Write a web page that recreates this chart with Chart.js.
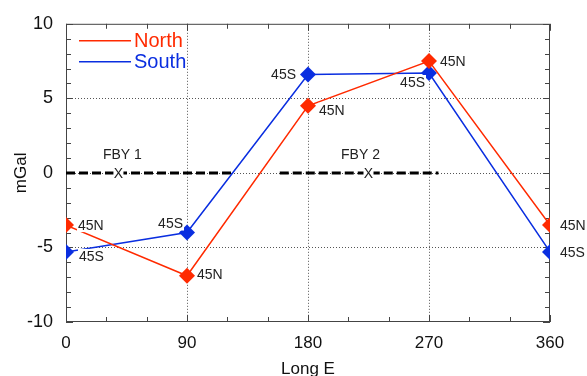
<!DOCTYPE html>
<html>
<head>
<meta charset="utf-8">
<script src="https://cdn.jsdelivr.net/npm/chart.js@4"></script>
<style>
    body { margin: 0; background: #fff; }
    canvas { display: block; }
</style>
</head>
<body>
<canvas id="gravity-chart" width="587" height="376"></canvas>
<script>
// values
var longitudes = [0, 90, 180, 270, 360];
var northValues = [-3.5, -6.9, 4.5, 7.5, -3.5];
var southValues = [-5.3, -4.0, 6.6, 6.7, -5.3];
var northTags = ["45N", "45N", "45N", "45N", "45N"];
var southTags = ["45S", "45S", "45S", "45S", "45S"];
var xTickValues = [0, 90, 180, 270, 360];
var yTickValues = [-10, -5, 0, 5, 10];
var fbyNames = ["FBY 1", "FBY 2"];
var fbyStart = [0, 159];
var fbyEnd = [124, 277];
var fbyCross = [39, 225];

// where each tag sits next to its marker: [dx, dy, align]
var northTagPlace = [[12, 0, "left"], [10, -2, "left"], [11, 4, "left"], [11, 0, "left"], [10, 0, "left"]];
var southTagPlace = [[13, 4, "left"], [-4, -9, "right"], [-12, 0, "right"], [-4, 9, "right"], [10, 0, "left"]];

var redColor = "#ff2a00";
var blueColor = "#0a2ee0";
var fontFamily = "'Liberation Sans', Arial, Helvetica, sans-serif";

function toPoints(xs, ys) {
    return xs.map(function (x, i) { return { x: x, y: ys[i] }; });
}

var fbyDatasets = fbyNames.map(function (name, i) {
    return {
        label: name,
        data: [{ x: fbyStart[i], y: 0 }, { x: fbyEnd[i], y: 0 }],
        borderColor: "#000",
        borderWidth: 3,
        borderDash: [9, 4],
        pointRadius: 0
    };
});

var decorPlugin = {
    id: "decor",
    beforeDatasetsDraw: function (chart) {
        var ctx = chart.ctx;
        var area = chart.chartArea;
        var xs = chart.scales.x;
        var ys = chart.scales.y;
        ctx.save();

        // dotted grid at the labelled ticks
        ctx.strokeStyle = "#555";
        ctx.lineWidth = 1;
        ctx.setLineDash([1, 2]);
        ctx.beginPath();
        xTickValues.slice(1, -1).forEach(function (v) {
            var gx = Math.round(xs.getPixelForValue(v)) + 0.5;
            ctx.moveTo(gx, area.top); ctx.lineTo(gx, area.bottom);
        });
        yTickValues.slice(1, -1).forEach(function (v) {
            var gy = Math.round(ys.getPixelForValue(v)) + 0.5;
            ctx.moveTo(area.left, gy); ctx.lineTo(area.right, gy);
        });
        ctx.stroke();
        ctx.setLineDash([]);

        ctx.strokeStyle = "#444";
        // frame
        ctx.strokeRect(area.left + 0.5, area.top + 0.5, area.right - area.left - 1, area.bottom - area.top - 1);
        // inward ticks on all four sides
        ctx.beginPath();
        for (var xv = 0; xv <= 360; xv += 30) {
            var px = Math.round(xs.getPixelForValue(xv)) + 0.5;
            var len = (xv % 90 === 0) ? 7 : 5;
            ctx.moveTo(px, area.bottom); ctx.lineTo(px, area.bottom - len);
            ctx.moveTo(px, area.top); ctx.lineTo(px, area.top + len);
        }
        for (var yv = -10; yv <= 10; yv += 1) {
            var py = Math.round(ys.getPixelForValue(yv)) + 0.5;
            var ylen = (yv % 5 === 0) ? 7 : 5;
            ctx.moveTo(area.left, py); ctx.lineTo(area.left + ylen, py);
            ctx.moveTo(area.right, py); ctx.lineTo(area.right - ylen, py);
        }
        ctx.stroke();

        // FBY names
        ctx.fillStyle = "#222";
        ctx.textAlign = "center";
        ctx.textBaseline = "middle";
        ctx.font = "14px " + fontFamily;
        fbyNames.forEach(function (name, i) {
            var cx = xs.getPixelForValue(fbyCross[i]);
            var cy = ys.getPixelForValue(0);
            ctx.fillText(name, cx + (i === 0 ? 4 : -8), cy - 18);
        });
        ctx.restore();
    },
    afterDatasetsDraw: function (chart) {
        var ctx = chart.ctx;
        var xs = chart.scales.x;
        var ys = chart.scales.y;
        var area = chart.chartArea;
        ctx.save();

        // crossing "X" over the dashed lines
        ctx.font = "14px " + fontFamily;
        ctx.textAlign = "center";
        ctx.textBaseline = "middle";
        fbyCross.forEach(function (v) {
            var cx = xs.getPixelForValue(v);
            var cy = ys.getPixelForValue(0);
            ctx.fillStyle = "#fff";
            ctx.fillRect(cx - 5, cy - 5, 10, 10);
            ctx.fillStyle = "#222";
            ctx.fillText("X", cx, cy + 1);
        });

        // point tags
        ctx.textBaseline = "middle";
        [[0, northTags, northTagPlace], [1, southTags, southTagPlace]].forEach(function (set) {
            var meta = chart.getDatasetMeta(set[0]);
            meta.data.forEach(function (pt, j) {
                var place = set[2][j];
                var tx = pt.x + place[0];
                var ty = pt.y + place[1];
                ctx.textAlign = place[2];
                var w = ctx.measureText(set[1][j]).width;
                var bx = place[2] === "left" ? tx - 1 : tx - w - 1;
                if (!(bx + w + 2 > area.right && bx < area.right)) {
                    ctx.fillStyle = "#fff";
                    ctx.fillRect(bx, ty - 7, w + 2, 14);
                }
                ctx.fillStyle = "#222";
                ctx.fillText(set[1][j], tx, ty + 1);
            });
        });

        // legend inside the plot
        var lx = area.left + 13;
        var names = [["North", redColor], ["South", blueColor]];
        ctx.font = "20px " + fontFamily;
        ctx.textAlign = "left";
        names.forEach(function (n, i) {
            var ly = area.top + 17 + i * 21;
            ctx.strokeStyle = n[1];
            ctx.lineWidth = 1.5;
            ctx.beginPath();
            ctx.moveTo(lx, ly);
            ctx.lineTo(lx + 52, ly);
            ctx.stroke();
            ctx.fillStyle = n[1];
            ctx.fillText(n[0], lx + 55, ly + 1);
        });
        ctx.restore();
    }
};

new Chart(
    document.getElementById("gravity-chart"),
    {
        type: "line",
        data: {
            datasets: [
                {
                    label: "North",
                    data: toPoints(longitudes, northValues),
                    borderColor: redColor,
                    backgroundColor: redColor,
                    borderWidth: 1.5,
                    pointStyle: "rectRot",
                    pointRadius: 8,
                    pointBorderWidth: 0
                },
                {
                    label: "South",
                    data: toPoints(longitudes, southValues),
                    borderColor: blueColor,
                    backgroundColor: blueColor,
                    borderWidth: 1.5,
                    pointStyle: "rectRot",
                    pointRadius: 8,
                    pointBorderWidth: 0
                }
            ].concat(fbyDatasets)
        },
        options: {
            responsive: false,
            animation: false,
            layout: {
                padding: { top: 20, right: 37, left: 0, bottom: 0 }
            },
            scales: {
                x: {
                    type: "linear",
                    min: 0,
                    max: 360,
                    afterFit: function (scale) { scale.height = 54; },
                    afterBuildTicks: function (scale) {
                        scale.ticks = xTickValues.map(function (v) { return { value: v }; });
                    },
                    ticks: {
                        color: "#111",
                        padding: 11,
                        maxRotation: 0,
                        font: { family: fontFamily, size: 17 }
                    },
                    grid: { display: false, drawTicks: false },
                    border: { display: false },
                    title: {
                        display: true,
                        text: "Long E",
                        color: "#111",
                        padding: { top: 0, bottom: -4 },
                        font: { family: fontFamily, size: 17 }
                    }
                },
                y: {
                    min: -10,
                    max: 10,
                    afterFit: function (scale) { scale.width = 66; },
                    afterBuildTicks: function (scale) {
                        scale.ticks = yTickValues.map(function (v) { return { value: v }; });
                    },
                    ticks: {
                        color: "#111",
                        padding: 13,
                        font: { family: fontFamily, size: 18 }
                    },
                    grid: { display: false, drawTicks: false },
                    border: { display: false },
                    title: {
                        display: true,
                        text: "mGal",
                        color: "#111",
                        padding: { top: 11, bottom: 0 },
                        font: { family: fontFamily, size: 17 }
                    }
                }
            },
            plugins: {
                legend: { display: false },
                tooltip: { enabled: false }
            }
        },
        plugins: [decorPlugin]
    }
);
</script>
</body>
</html>
